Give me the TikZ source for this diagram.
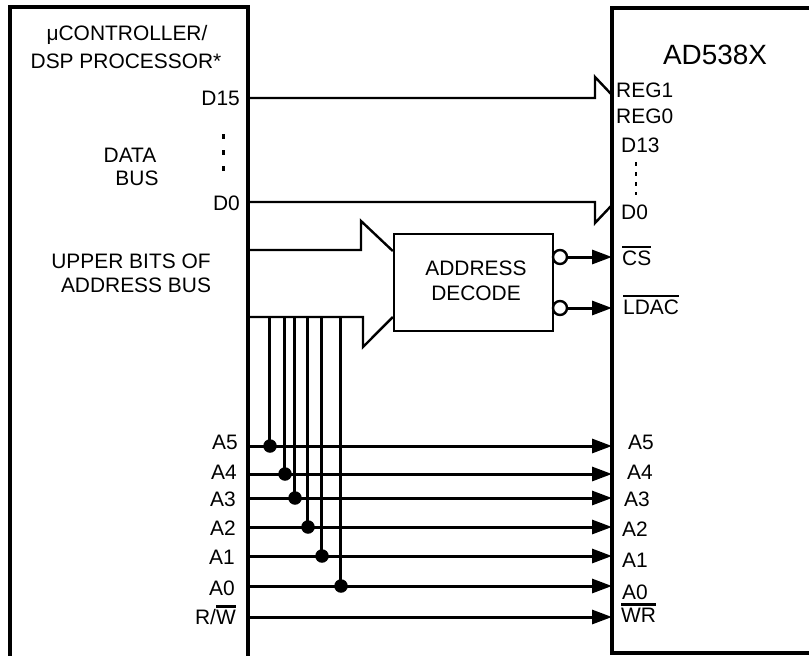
\documentclass[tikz,border=0pt]{standalone}
\usepackage{fontspec}
\setmainfont{Liberation Sans}
\usetikzlibrary{arrows.meta}
\newcommand\ovbar[1]{\leavevmode\vbox{\hrule height 2.2pt\kern 2.6pt\hbox{#1}}}
\begin{document}
\begin{tikzpicture}[x=1bp,y=-1bp,
  lbl/.style={font=\fontsize{21}{25}\selectfont, inner sep=0pt},
  boxline/.style={line width=3.4bp},
  sig/.style={line width=3bp},
  thin/.style={line width=2.4bp},
  arr/.style={sig,-{Triangle[length=20bp,width=14bp]}},
  jdot/.style={circle,fill=black,inner sep=0pt,minimum size=13.5bp},
  bub/.style={circle,draw,thin,fill=white,inner sep=0pt,minimum size=14bp}]
\useasboundingbox (0,0) rectangle (809,656);
% boxes
\draw[boxline] (10,660) -- (10,7) -- (248,7) -- (248,660);
\draw[boxline] (812,8) -- (612,8) -- (612,653) -- (812,653);
% left titles
\node[lbl] (t1) at (127,35) {μCONTROLLER/};
\node[lbl] (t2) at (126,61) {DSP PROCESSOR*};
\node[lbl] (t3) at (130,155) {DATA};
\node[lbl] (t4) at (137,178) {BUS};
\node[lbl] (t5) at (131,261) {UPPER BITS OF};
\node[lbl] (t6) at (136,285) {ADDRESS BUS};
\node[lbl,font=\fontsize{28}{32}\selectfont] (t7) at (715,55) {AD538X};
% left pin labels
\node[lbl,anchor=east] (lD15) at (240,98) {D15};
\node[lbl,anchor=east] (lD0) at (240,203) {D0};
\foreach \yy in {137,152,168} \fill (221.5,\yy-2.5) rectangle (224.5,\yy+2.5);
% right pin labels
\node[lbl,anchor=west] (rREG1) at (616,90) {REG1};
\node[lbl,anchor=west] (rREG0) at (616,116) {REG0};
\node[lbl,anchor=west] (rD13) at (621,145) {D13};
\draw[line width=1.4bp,dash pattern=on 4bp off 6bp] (636,162) -- (636,195);
\node[lbl,anchor=west] (rD0) at (621,212) {D0};
% data lines with bus notches
\coordinate (pD15) at (248,98);
\coordinate (pD0) at (248,202);
\coordinate (qD15) at (612,95);
\coordinate (qD0) at (612,205);
\draw[thin] (pD15) -- (595,98) -- (595,77) -- (qD15);
\draw[thin] (pD0) -- (595,202) -- (595,223) -- (qD0);
% address decode
\node[draw,thin,minimum width=159bp,minimum height=97bp,inner sep=0pt] (dec) at (473.5,282.5) {};
\node[lbl] (d1) at (476,268) {ADDRESS};
\node[lbl] (d2) at (476,293) {DECODE};
\coordinate (bt) at (248,250);
\coordinate (bb) at (246,317);
\draw[thin] (bt) -- (361,250) -- (361,221) -- (dec.west |- 0,251);
\draw[thin] (bb) -- (363,317) -- (363,347) -- (dec.west |- 0,317);
% bubbles and outputs
\node[bub] (b1) at (560,257) {};
\node[bub] (b2) at (560,308) {};
\coordinate (qCS) at (612,257);
\coordinate (qLD) at (612,308);
\draw[arr] (b1) -- (qCS);
\draw[arr] (b2) -- (qLD);
\node[lbl,anchor=west] (rCS) at (622,256) {\ovbar{CS}};
\node[lbl,anchor=west] (rLD) at (623,305) {\ovbar{LDAC}};
% address lines
\foreach \nm/\yy/\lx/\ly/\rx/\ry/\vx in {A5/446/238/442/628/442/269,A4/474/237/472/627/472/284,A3/498/236/499/624/499/294,A2/527/236/528/622/529/307,A1/556/235/557/622/560/321,A0/586/235/588/622/592/340}{
  \coordinate (p\nm) at (248,\yy);
  \coordinate (q\nm) at (612,\yy);
  \node[lbl,anchor=east] (l\nm) at (\lx,\ly) {\nm};
  \node[lbl,anchor=west] (r\nm) at (\rx,\ry) {\nm};
  \node[jdot] (j\nm) at (\vx+1,\yy) {};
  \coordinate (v\nm) at (\vx,317);
  \draw[sig] (v\nm) -- (\vx,\yy);
  \draw[arr] (p\nm) -- (q\nm);
}
\coordinate (pRW) at (248,617);
\coordinate (qRW) at (612,617);
\draw[arr] (pRW) -- (qRW);
\node[lbl,anchor=east] (lRW) at (236,615) {R/\ovbar{W}};
\node[lbl,anchor=west] (rWR) at (621,613) {\ovbar{WR}};
\end{tikzpicture}
\end{document}
